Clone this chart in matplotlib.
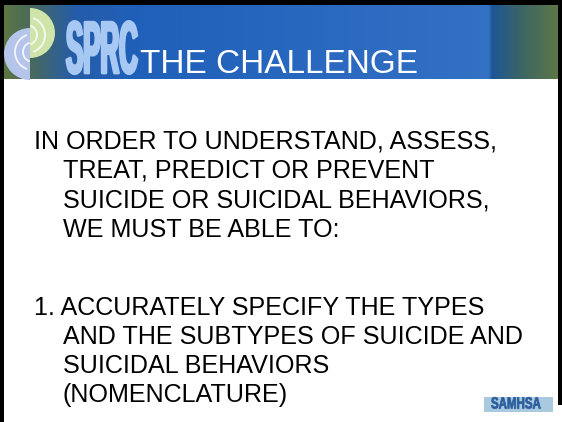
import numpy as np
import matplotlib
matplotlib.use("Agg")
import matplotlib.pyplot as plt
import matplotlib.patheffects as pe
from matplotlib.patches import Rectangle, Wedge, Arc
from matplotlib.transforms import Affine2D

# slide content
title = "THE CHALLENGE"
logo_text = "SPRC"
badge_text = "SAMHSA"
intro_lines = ["IN ORDER TO UNDERSTAND, ASSESS,",
               "TREAT, PREDICT OR PREVENT",
               "SUICIDE OR SUICIDAL BEHAVIORS,",
               "WE MUST BE ABLE TO:"]
point_lines = ["1. ACCURATELY SPECIFY THE TYPES",
               "AND THE SUBTYPES OF SUICIDE AND",
               "SUICIDAL BEHAVIORS",
               "(NOMENCLATURE)"]

# header gradient stops (x in pixels, rgb)
grad_x = [4, 30, 75, 140, 470, 488, 492, 520, 558]
grad_rgb = [(92, 118, 66), (74, 106, 92), (36, 92, 170), (32, 96, 186),
            (50, 112, 196), (52, 114, 196), (30, 86, 150), (60, 100, 100),
            (92, 120, 70)]


class Stretch(pe.Stroke):
    """draw the text path scaled about its origin (tall, condensed logo lettering)"""
    def __init__(self, sx=1.0, sy=1.0, **kw):
        super().__init__(**kw)
        self.sx, self.sy = sx, sy

    def draw_path(self, renderer, gc, tpath, affine, rgbFace=None):
        super().draw_path(renderer, gc, tpath,
                          Affine2D().scale(self.sx, self.sy) + affine, rgbFace)


W, H = 562, 422
fig = plt.figure(figsize=(W / 100, H / 100), dpi=100)
ax = fig.add_axes([0, 0, 1, 1])
ax.set_xlim(0, W)
ax.set_ylim(H, 0)
ax.axis("off")

# borders
ax.add_patch(Rectangle((0, 0), W, 5, color="black", lw=0))
ax.add_patch(Rectangle((0, 0), 3.5, H, color="black", lw=0))
ax.add_patch(Rectangle((558, 0), 4, 405, color="black", lw=0))

# header band
xs = np.arange(4, 558)
grad = np.zeros((1, len(xs), 3))
for c in range(3):
    grad[0, :, c] = np.interp(xs, grad_x, [g[c] for g in grad_rgb]) / 255
ax.imshow(grad, extent=[4, 558, 79, 5], aspect="auto", interpolation="bilinear", zorder=1)

# logo halves
ax.add_patch(Wedge((30, 54), 26, 90, 270, color="#b4c4ea", lw=0, zorder=2))
ax.add_patch(Wedge((30, 33), 25, -90, 90, color="#cfe4a8", lw=0, zorder=2))
for r in [10, 18]:
    ax.add_patch(Arc((33, 52), 2 * r, 2 * r, theta1=110, theta2=250,
                     color="white", lw=1.4, alpha=0.8, zorder=3))
    ax.add_patch(Arc((27, 35), 2 * r, 2 * r, theta1=-70, theta2=70,
                     color="white", lw=1.4, alpha=0.8, zorder=3))

ax.text(66, 73, logo_text, fontsize=18.6, fontweight="bold", family="Liberation Sans",
        color="#a6c8f2", ha="left", va="baseline", zorder=4,
        path_effects=[Stretch(sy=2.86, linewidth=2.0, foreground="#a6c8f2")])
ax.text(140, 73, title, fontsize=24, family="Liberation Sans", color="white",
        ha="left", va="baseline", zorder=4)

# body text
fs = 18.1
for i, line in enumerate(intro_lines):
    ax.text(34 if i == 0 else 63, 148 + 29.6 * i, line, fontsize=fs,
            family="Liberation Sans", color="black", ha="left", va="baseline")
for i, line in enumerate(point_lines):
    ax.text(34 if i == 0 else 63, 315 + 28.9 * i, line, fontsize=fs,
            family="Liberation Sans", color="black", ha="left", va="baseline")

# SAMHSA badge
ax.add_patch(Rectangle((484, 397), 69, 14.5, color="#a9c9df", lw=0, zorder=2))
ax.text(491, 408.5, badge_text, fontsize=9, fontweight="bold", family="Liberation Sans",
        color="#2b5c9c", ha="left", va="baseline", zorder=3,
        path_effects=[Stretch(sx=0.92, sy=1.3, linewidth=0.5, foreground="#2b5c9c")])

fig.savefig("out.png", dpi=100)
